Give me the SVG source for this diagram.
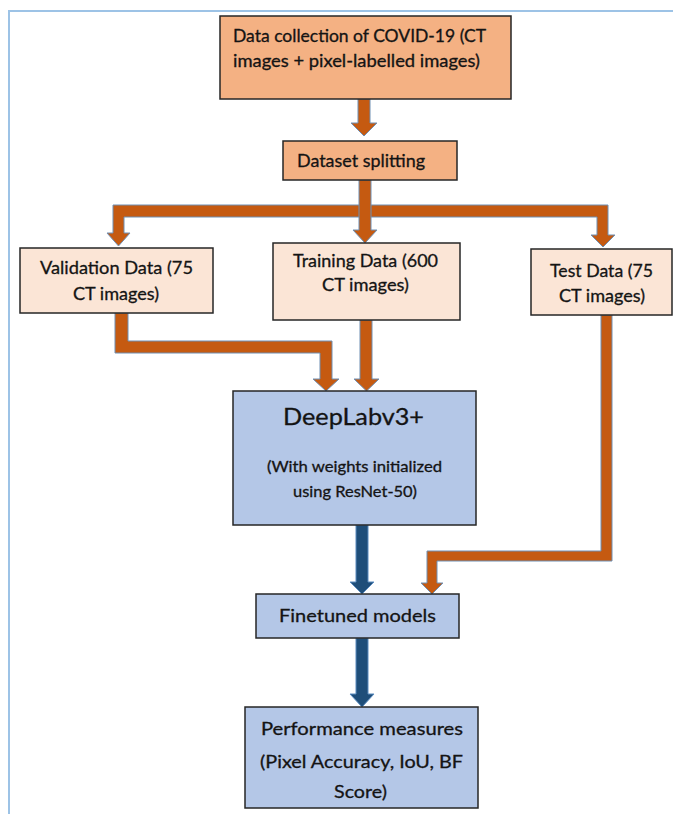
<svg xmlns="http://www.w3.org/2000/svg" width="673" height="814" viewBox="0 0 673 814">
<style>
.box{stroke:#262626;stroke-width:1.5}
.o1{fill:#f4b183}
.o2{fill:#fbe5d6}
.b1{fill:#b4c7e7}
.t{font-family:Lato,"Liberation Sans",sans-serif;fill:#141414;stroke:#141414;stroke-width:0.3}
.c{text-anchor:middle}
.oa{fill:#c55a11;stroke:#6f8fb3;stroke-width:1}
.ba{fill:#1f4e79;stroke:#5b8bbf;stroke-width:1}
</style>
<rect width="673" height="814" fill="#ffffff"/>
<path d="M9,814 V11 H673" fill="none" stroke="#9dc3e6" stroke-width="2"/>

<g id="connectors">
  <path class="oa" d="M358,99 H370 V123 H377 L364,136 L351,123 H358 Z"/>
  <path class="oa" d="M113,205 H365 V217 H124 V233 H130 L118.5,246 L107,233 H113 Z"/>
  <path class="oa" d="M365,205 H608 V235 H615 L603,247 L591,235 H597 V217 H365 Z"/>
  <path class="oa" d="M359,180 H371 V230 H377 L365,243 L353,230 H359 Z"/>
  <path class="oa" d="M115,313 H128 V341 H332 V379 H339 L326,391 L313,379 H320 V353 H115 Z"/>
  <path class="oa" d="M360,320 H372 V379 H379 L366.5,391 L354,379 H360 Z"/>
  <path class="oa" d="M601,315 H612 V561 H437 V583 H443 L432,594 L421,583 H427 V551 H601 Z"/>
  <path class="ba" d="M356,525 H368 V582 H374 L362,594 L350,582 H356 Z"/>
  <path class="ba" d="M356,638 H368 V694 H374 L362,707 L350,694 H356 Z"/>
</g>

<g id="node-collection">
  <rect class="box o1" x="220" y="16" width="291" height="83"/>
  <text class="t" x="233" y="42" font-size="16.5" textLength="253" lengthAdjust="spacingAndGlyphs">Data collection of COVID-19 (CT</text>
  <text class="t" x="233" y="67" font-size="16.5" textLength="247" lengthAdjust="spacingAndGlyphs">images + pixel-labelled images)</text>
</g>

<g id="node-splitting">
  <rect class="box o1" x="283" y="141" width="174" height="39"/>
  <text class="t" x="297" y="167" font-size="17" textLength="128" lengthAdjust="spacingAndGlyphs">Dataset splitting</text>
</g>

<g id="node-validation">
  <rect class="box o2" x="20" y="248" width="193" height="65"/>
  <text class="t c" x="116.5" y="274" font-size="17.5" textLength="153" lengthAdjust="spacingAndGlyphs">Validation Data (75</text>
  <text class="t c" x="116" y="300" font-size="17.5" textLength="86" lengthAdjust="spacingAndGlyphs">CT images)</text>
</g>

<g id="node-training">
  <rect class="box o2" x="273" y="243" width="187" height="77"/>
  <text class="t c" x="365.5" y="267" font-size="17.5" textLength="145" lengthAdjust="spacingAndGlyphs">Training Data (600</text>
  <text class="t c" x="365.5" y="291" font-size="17.5" textLength="87" lengthAdjust="spacingAndGlyphs">CT images)</text>
</g>

<g id="node-test">
  <rect class="box o2" x="531" y="249" width="141" height="66"/>
  <text class="t c" x="601.5" y="277" font-size="17.5" textLength="103" lengthAdjust="spacingAndGlyphs">Test Data (75</text>
  <text class="t c" x="602" y="302" font-size="17.5" textLength="86" lengthAdjust="spacingAndGlyphs">CT images)</text>
</g>

<g id="node-deeplab">
  <rect class="box b1" x="233" y="391" width="243" height="134"/>
  <text class="t c" x="353.5" y="425" font-size="23" textLength="141" lengthAdjust="spacingAndGlyphs">DeepLabv3+</text>
  <text class="t c" x="354.5" y="472" font-size="15" textLength="175" lengthAdjust="spacingAndGlyphs">(With weights initialized</text>
  <text class="t c" x="355" y="497" font-size="15" textLength="124" lengthAdjust="spacingAndGlyphs">using ResNet-50)</text>
</g>

<g id="node-finetuned">
  <rect class="box b1" x="256" y="594" width="203" height="44"/>
  <text class="t c" x="357.5" y="622" font-size="18" textLength="157" lengthAdjust="spacingAndGlyphs">Finetuned models</text>
</g>

<g id="node-performance">
  <rect class="box b1" x="245" y="707" width="233" height="101"/>
  <text class="t c" x="362" y="735" font-size="17.5" textLength="202" lengthAdjust="spacingAndGlyphs">Performance measures</text>
  <text class="t c" x="361.5" y="768" font-size="17.5" textLength="203" lengthAdjust="spacingAndGlyphs">(Pixel Accuracy, IoU, BF</text>
  <text class="t c" x="360.5" y="798" font-size="17.5" textLength="53" lengthAdjust="spacingAndGlyphs">Score)</text>
</g>
</svg>
